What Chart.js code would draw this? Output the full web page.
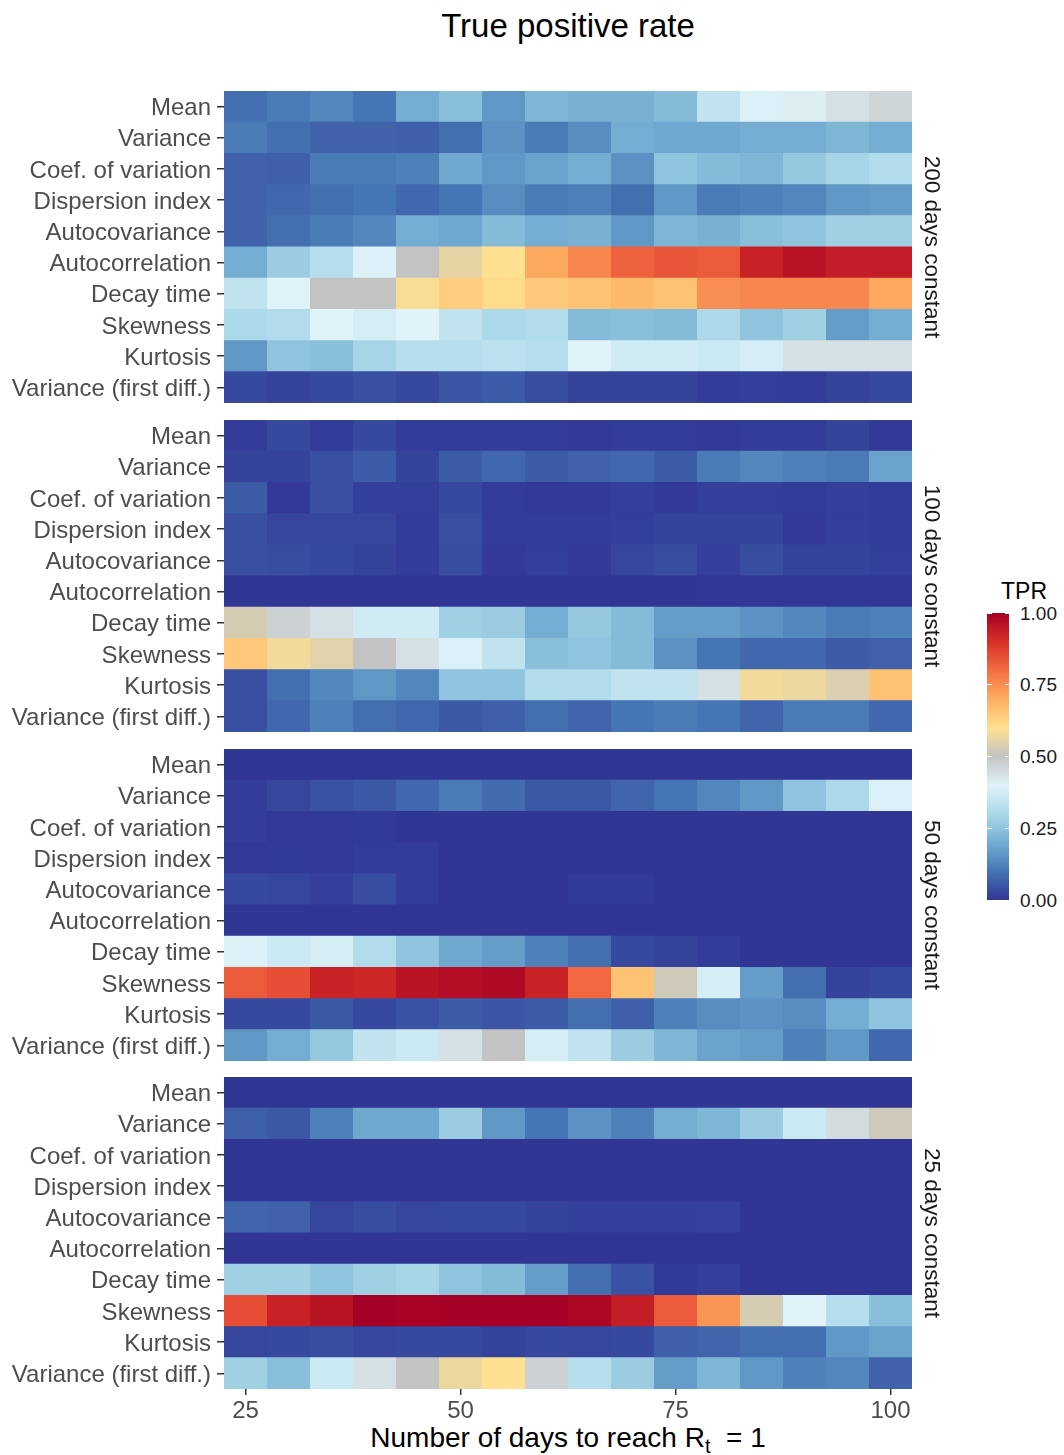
<!DOCTYPE html>
<html>
<head>
<meta charset="utf-8">
<script src="https://cdn.jsdelivr.net/npm/chart.js@4"></script>
<style>
  body { margin: 0; background: #fff; font-family: "Liberation Sans", Arial, sans-serif; }
  #wrap { position: relative; width: 1064px; height: 1455px; overflow: hidden; }
  #wrap canvas { position: absolute; left: 0; }
  .txt { position: absolute; white-space: nowrap; }
</style>
</head>
<body>
<div id="wrap">
  <div class="txt" style="left:0;width:1136px;text-align:center;top:9px;font-size:33px;line-height:33px;color:#000">True positive rate</div>
  <div class="txt" style="left:0;width:1136px;text-align:center;top:1424px;font-size:28px;line-height:28px;color:#000">Number of days to reach R<span style="font-size:20px;position:relative;top:6px">t</span>&nbsp; = 1</div>
</div>
<script>
// categories
const rowLabels = ["Mean", "Variance", "Coef. of variation", "Dispersion index", "Autocovariance",
  "Autocorrelation", "Decay time", "Skewness", "Kurtosis", "Variance (first diff.)"];
const daysToR1 = [25, 30, 35, 40, 45, 50, 55, 60, 65, 70, 75, 80, 85, 90, 95, 100];
const xTicks = [25, 50, 75, 100];
const panelNames = ["200 days constant", "100 days constant", "50 days constant", "25 days constant"];
const legendBreaks = [0, 0.25, 0.5, 0.75, 1];

// TPR per panel, one row per indicator, one value per x
const tpr200 = [
  [0.09, 0.11, 0.13, 0.10, 0.20, 0.24, 0.16, 0.22, 0.21, 0.21, 0.23, 0.34, 0.39, 0.41, 0.44, 0.46],
  [0.11, 0.09, 0.07, 0.07, 0.065, 0.09, 0.15, 0.11, 0.14, 0.20, 0.19, 0.19, 0.20, 0.20, 0.22, 0.20],
  [0.07, 0.065, 0.11, 0.11, 0.12, 0.19, 0.16, 0.18, 0.20, 0.15, 0.25, 0.23, 0.22, 0.26, 0.29, 0.31],
  [0.07, 0.08, 0.09, 0.10, 0.08, 0.10, 0.14, 0.11, 0.12, 0.09, 0.16, 0.11, 0.12, 0.13, 0.16, 0.17],
  [0.07, 0.09, 0.11, 0.13, 0.20, 0.19, 0.23, 0.20, 0.21, 0.16, 0.22, 0.21, 0.24, 0.25, 0.28, 0.28],
  [0.20, 0.27, 0.32, 0.39, 0.50, 0.56, 0.60, 0.71, 0.76, 0.82, 0.84, 0.83, 0.93, 0.96, 0.94, 0.94],
  [0.34, 0.40, 0.50, 0.50, 0.59, 0.64, 0.61, 0.65, 0.66, 0.68, 0.66, 0.75, 0.76, 0.76, 0.76, 0.71],
  [0.30, 0.31, 0.40, 0.38, 0.40, 0.34, 0.30, 0.31, 0.23, 0.24, 0.23, 0.30, 0.25, 0.28, 0.17, 0.20],
  [0.16, 0.25, 0.24, 0.29, 0.32, 0.32, 0.33, 0.32, 0.40, 0.37, 0.37, 0.36, 0.38, 0.44, 0.44, 0.44],
  [0.03, 0.02, 0.03, 0.04, 0.03, 0.05, 0.06, 0.035, 0.02, 0.02, 0.02, 0.01, 0.015, 0.01, 0.02, 0.03]
];
const tpr100 = [
  [0.01, 0.03, 0.01, 0.03, 0.01, 0.01, 0.01, 0.01, 0.005, 0.01, 0.01, 0.005, 0.01, 0.01, 0.02, 0.005],
  [0.02, 0.02, 0.04, 0.06, 0.02, 0.06, 0.08, 0.06, 0.07, 0.08, 0.06, 0.11, 0.13, 0.12, 0.11, 0.18],
  [0.06, 0.005, 0.04, 0.015, 0.015, 0.03, 0.01, 0.005, 0.005, 0.015, 0.005, 0.015, 0.015, 0.01, 0.015, 0.01],
  [0.04, 0.025, 0.025, 0.025, 0.01, 0.04, 0.01, 0.01, 0.01, 0.015, 0.02, 0.02, 0.02, 0.005, 0.015, 0.01],
  [0.04, 0.035, 0.03, 0.02, 0.01, 0.035, 0.005, 0.015, 0.005, 0.025, 0.035, 0.015, 0.035, 0.02, 0.02, 0.015],
  [0, 0, 0, 0, 0, 0, 0, 0, 0, 0, 0, 0.002, 0.002, 0.002, 0.002, 0.002],
  [0.53, 0.47, 0.44, 0.37, 0.37, 0.28, 0.27, 0.20, 0.26, 0.23, 0.17, 0.17, 0.15, 0.13, 0.11, 0.12],
  [0.65, 0.58, 0.55, 0.50, 0.44, 0.39, 0.34, 0.24, 0.25, 0.23, 0.15, 0.10, 0.08, 0.08, 0.06, 0.07],
  [0.04, 0.09, 0.13, 0.16, 0.13, 0.25, 0.25, 0.31, 0.31, 0.34, 0.34, 0.44, 0.58, 0.57, 0.54, 0.66],
  [0.04, 0.08, 0.12, 0.09, 0.08, 0.055, 0.065, 0.09, 0.075, 0.10, 0.11, 0.10, 0.075, 0.11, 0.11, 0.08]
];
const tpr50 = [
  [0, 0, 0, 0, 0, 0, 0, 0, 0, 0, 0, 0, 0, 0, 0, 0],
  [0.01, 0.025, 0.045, 0.055, 0.08, 0.11, 0.085, 0.055, 0.055, 0.075, 0.10, 0.13, 0.16, 0.25, 0.30, 0.39],
  [0.01, 0.003, 0.003, 0.007, 0, 0, 0, 0, 0, 0, 0, 0, 0, 0, 0, 0],
  [0.003, 0.007, 0.003, 0.01, 0.01, 0, 0, 0, 0, 0, 0, 0, 0, 0, 0, 0],
  [0.03, 0.025, 0.015, 0.035, 0.01, 0, 0, 0, 0.007, 0.007, 0, 0, 0, 0, 0, 0],
  [0, 0, 0, 0, 0, 0, 0, 0, 0, 0, 0, 0, 0, 0, 0, 0],
  [0.39, 0.36, 0.38, 0.31, 0.25, 0.19, 0.17, 0.12, 0.09, 0.03, 0.02, 0.01, 0, 0, 0, 0],
  [0.83, 0.85, 0.93, 0.92, 0.96, 0.97, 0.98, 0.93, 0.81, 0.66, 0.52, 0.38, 0.17, 0.09, 0.02, 0.03],
  [0.03, 0.03, 0.055, 0.03, 0.045, 0.06, 0.05, 0.06, 0.09, 0.065, 0.12, 0.14, 0.15, 0.14, 0.20, 0.25],
  [0.16, 0.20, 0.26, 0.34, 0.36, 0.44, 0.50, 0.38, 0.34, 0.27, 0.22, 0.18, 0.17, 0.12, 0.16, 0.08]
];
const tpr25 = [
  [0, 0, 0, 0, 0, 0, 0, 0, 0, 0, 0, 0, 0, 0, 0, 0],
  [0.065, 0.055, 0.12, 0.19, 0.19, 0.27, 0.16, 0.10, 0.15, 0.12, 0.20, 0.22, 0.27, 0.36, 0.45, 0.52],
  [0, 0, 0, 0, 0, 0, 0, 0, 0, 0, 0, 0, 0, 0, 0, 0],
  [0, 0, 0, 0, 0, 0, 0, 0, 0, 0, 0, 0, 0, 0, 0, 0],
  [0.075, 0.07, 0.025, 0.035, 0.025, 0.03, 0.03, 0.02, 0.015, 0.015, 0.015, 0.018, 0, 0, 0, 0],
  [0, 0, 0, 0, 0, 0, 0, 0, 0, 0, 0, 0, 0, 0, 0, 0],
  [0.28, 0.28, 0.25, 0.28, 0.29, 0.25, 0.23, 0.17, 0.09, 0.045, 0.007, 0.015, 0, 0, 0, 0],
  [0.85, 0.93, 0.96, 1.00, 0.995, 1.00, 1.00, 1.00, 0.985, 0.94, 0.83, 0.74, 0.53, 0.40, 0.32, 0.24],
  [0.025, 0.03, 0.035, 0.025, 0.03, 0.03, 0.02, 0.03, 0.025, 0.03, 0.065, 0.075, 0.09, 0.09, 0.16, 0.18],
  [0.28, 0.24, 0.36, 0.44, 0.50, 0.57, 0.60, 0.47, 0.32, 0.27, 0.17, 0.22, 0.16, 0.12, 0.13, 0.07]
];
const panelValues = [tpr200, tpr100, tpr50, tpr25];

// colour scale (blue -> light -> grey -> yellow -> red), evenly spaced stops
const stops = ["#313695", "#4575b4", "#74add1", "#abd9e9", "#e0f3f8", "#c3c3c3",
  "#fee090", "#fdae61", "#f46d43", "#d73027", "#a50026"];
const hex = h => [1, 3, 5].map(i => parseInt(h.slice(i, i + 2), 16));
function tprColour(v) {
  v = Math.max(0, Math.min(1, v));
  const p = v * (stops.length - 1), i = Math.min(stops.length - 2, Math.floor(p)), t = p - i;
  const a = hex(stops[i]), b = hex(stops[i + 1]);
  return "rgb(" + a.map((c, k) => Math.round(c + (b[k] - c) * t)).join(",") + ")";
}

const FONT = '"Liberation Sans", Arial, sans-serif';
Chart.defaults.font.family = FONT;
const wrap = document.getElementById("wrap");
const panelTops = [91, 420, 749, 1077];

const stripLabel = {
  id: "strip",
  afterDraw(chart, args, opts) {
    const { ctx, chartArea: a } = chart;
    ctx.save();
    ctx.translate(a.right + 19.5, (a.top + a.bottom) / 2);
    ctx.rotate(Math.PI / 2);
    ctx.font = "22.5px " + FONT;
    ctx.fillStyle = "#1a1a1a";
    ctx.textAlign = "center";
    ctx.textBaseline = "middle";
    ctx.fillText(opts.text, 0, 0);
    ctx.restore();
  }
};

panelValues.forEach((vals, p) => {
  const last = p === panelValues.length - 1;
  const cv = document.createElement("canvas");
  cv.width = 960;
  cv.height = last ? 357 : 312;
  cv.style.top = panelTops[p] + "px";
  wrap.appendChild(cv);

  const datasets = daysToR1.map((d, c) => ({
    data: rowLabels.map(() => [d - 2.5, d + 2.5]),
    backgroundColor: rowLabels.map((_, r) => tprColour(vals[r][c])),
    borderWidth: 0,
    barPercentage: 1.03,
    categoryPercentage: 1,
    grouped: false
  }));

  new Chart(cv, {
    type: "bar",
    data: { labels: rowLabels, datasets },
    options: {
      indexAxis: "y",
      responsive: false,
      animation: false,
      devicePixelRatio: 1,
      layout: { padding: { left: 0, right: 48, top: 0, bottom: 0 } },
      plugins: { legend: { display: false }, tooltip: { enabled: false }, strip: { text: panelNames[p] } },
      scales: {
        x: {
          type: "linear", min: 22.5, max: 102.5, display: last,
          afterBuildTicks: s => { s.ticks = xTicks.map(v => ({ value: v })); },
          afterFit: s => { s.height = last ? 45 : 0; s.paddingLeft = 0; s.paddingRight = 0; },
          grid: { drawOnChartArea: false, tickLength: 6, color: "#333", lineWidth: 1.5 },
          border: { display: false },
          ticks: { color: "#4d4d4d", font: { size: 24 }, padding: 2, maxRotation: 0 }
        },
        y: {
          afterFit: s => { s.width = 224; s.paddingTop = 0; s.paddingBottom = 0; },
          grid: { drawOnChartArea: false, offset: false, tickLength: 7, color: "#333", lineWidth: 1.5 },
          border: { display: false },
          ticks: { color: "#4d4d4d", font: { size: 24 }, padding: 6, labelOffset: 2, autoSkip: false }
        }
      }
    },
    plugins: [stripLabel]
  });
});

// colourbar legend
const barTop = 613, barBottom = 900, barLeft = 987, barW = 22;
function addDiv(css, text) {
  const d = document.createElement("div");
  d.className = "txt";
  d.style.cssText = css;
  if (text) d.textContent = text;
  wrap.appendChild(d);
  return d;
}
addDiv(`left:974px;width:100px;text-align:center;top:580px;font-size:23px;line-height:23px;color:#000`, "TPR");
addDiv(`left:${barLeft}px;top:${barTop}px;width:${barW}px;height:${barBottom - barTop}px;` +
  `background:linear-gradient(to top, ${stops.map((c, i) => c + " " + (i * 100 / (stops.length - 1)) + "%").join(", ")})`);
legendBreaks.forEach(v => {
  const y = barBottom - v * (barBottom - barTop);
  addDiv(`left:${barLeft}px;top:${y - 0.5}px;width:4.5px;height:1px;background:#fff`);
  addDiv(`left:${barLeft + barW - 4.5}px;top:${y - 0.5}px;width:4.5px;height:1px;background:#fff`);
  addDiv(`left:1020px;top:${y - 9.3}px;font-size:19px;line-height:19px;color:#1a1a1a`, v.toFixed(2));
});
</script>
</body>
</html>
